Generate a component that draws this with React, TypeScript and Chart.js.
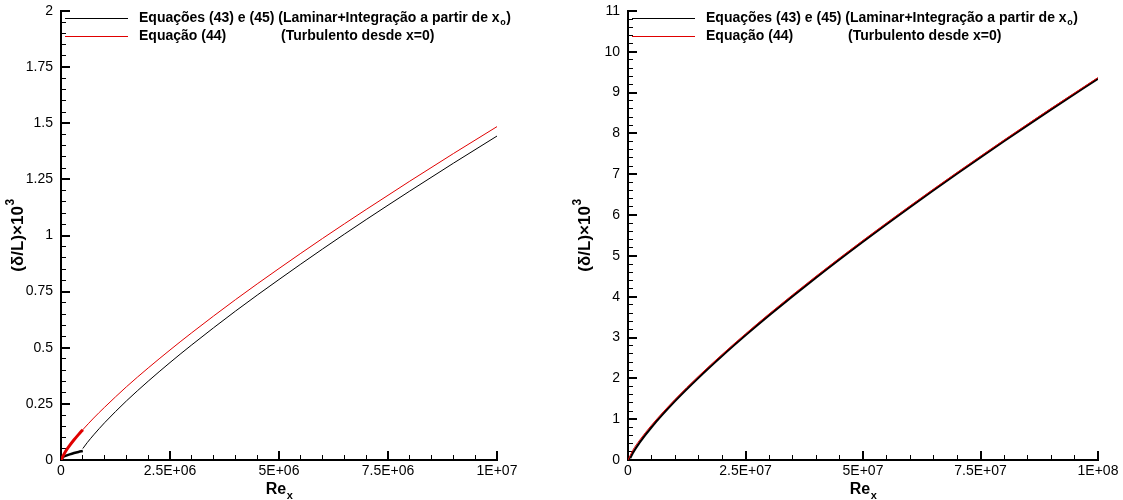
import React, { useEffect, useRef } from "react";
import { Chart, registerables } from "chart.js";

Chart.register(...registerables);

const FONT = '"Liberation Sans", Arial, Helvetica, sans-serif';

// ---------- Left panel data (Re up to 1E+07) ----------
const leftRedRe = [0, 1e5, 2e5, 3e5, 4e5, 5e5, 7.5e5, 1e6, 1.5e6, 2e6, 2.5e6, 3e6, 4e6, 5e6, 6e6, 7e6, 8e6, 9e6, 1e7];
const leftRed = [0, 0.037, 0.065, 0.09, 0.113, 0.135, 0.187, 0.235, 0.326, 0.41, 0.49, 0.567, 0.714, 0.853, 0.987, 1.116, 1.242, 1.365, 1.485];
const leftLamRe = [0, 5e4, 1e5, 2e5, 3e5, 4e5, 5e5];
const leftLam = [0, 0.013, 0.018, 0.025, 0.031, 0.036, 0.04];
const leftBlackRe = [5e5, 6e5, 7.5e5, 1e6, 1.5e6, 2e6, 2.5e6, 3e6, 4e6, 5e6, 6e6, 7e6, 8e6, 9e6, 1e7];
const leftBlack = [0.051, 0.077, 0.112, 0.166, 0.263, 0.351, 0.434, 0.513, 0.663, 0.804, 0.94, 1.071, 1.198, 1.322, 1.443];
const leftXTicks = [0, 2.5e6, 5e6, 7.5e6, 1e7];
const leftXLabels = ["0", "2.5E+06", "5E+06", "7.5E+06", "1E+07"];
const leftYTicks = [0, 0.25, 0.5, 0.75, 1, 1.25, 1.5, 1.75, 2];
const leftYLabels = ["0", "0.25", "0.5", "0.75", "1", "1.25", "1.5", "1.75", "2"];

// ---------- Right panel data (Re up to 1E+08) ----------
const rightRedRe = [0, 1e6, 2.5e6, 5e6, 1e7, 1.5e7, 2e7, 2.5e7, 3e7, 4e7, 5e7, 6e7, 7e7, 8e7, 9e7, 1e8];
const rightRed = [0, 0.235, 0.49, 0.853, 1.485, 2.054, 2.585, 3.091, 3.577, 4.502, 5.381, 6.226, 7.044, 7.838, 8.613, 9.37];
const rightLamRe = [0, 2.5e5, 5e5];
const rightLam = [0, 0.028, 0.04];
const rightBlackRe = [5e5, 1e6, 2.5e6, 5e6, 1e7, 1.5e7, 2e7, 2.5e7, 3e7, 4e7, 5e7, 6e7, 7e7, 8e7, 9e7, 1e8];
const rightBlack = [0.051, 0.166, 0.434, 0.804, 1.443, 2.015, 2.549, 3.056, 3.543, 4.47, 5.351, 6.197, 7.016, 7.811, 8.586, 9.343];
const rightXTicks = [0, 2.5e7, 5e7, 7.5e7, 1e8];
const rightXLabels = ["0", "2.5E+07", "5E+07", "7.5E+07", "1E+08"];
const rightYTicks = [0, 1, 2, 3, 4, 5, 6, 7, 8, 9, 10, 11];
const rightYLabels = ["0", "1", "2", "3", "4", "5", "6", "7", "8", "9", "10", "11"];

const legendLine1 = "Equações (43) e (45) (Laminar+Integração a partir de x";
const legendLine1Sub = "o";
const legendLine1End = ")";
const legendLine2a = "Equação (44)";
const legendLine2b = "(Turbulento desde x=0)";

const pts = (xs: number[], ys: number[]) => xs.map((x, i) => ({ x, y: ys[i] }));

// minor tick values: 4 between each pair of major ticks
const minorsOf = (major: number[]) => {
  const out: number[] = [];
  for (let i = 0; i < major.length - 1; i++) {
    const step = (major[i + 1] - major[i]) / 5;
    for (let k = 1; k < 5; k++) out.push(major[i] + k * step);
  }
  return out;
};

const decorPlugin = {
  id: "axisText",
  afterDraw(chart: any) {
    const ctx = chart.ctx;
    const area = chart.chartArea;
    const left = Math.round(area.left);
    const right = Math.round(area.right);
    const top = Math.round(area.top);
    const bottom = Math.round(area.bottom);
    ctx.save();
    ctx.fillStyle = "#000";

    // x title Re_x
    const cx = (left + right) / 2;
    ctx.textBaseline = "alphabetic";
    ctx.textAlign = "left";
    ctx.font = `bold 16px ${FONT}`;
    const wRe = ctx.measureText("Re").width;
    ctx.font = `bold 11px ${FONT}`;
    const wx = ctx.measureText("x").width;
    const x0 = cx - (wRe + wx) / 2;
    ctx.font = `bold 16px ${FONT}`;
    ctx.fillText("Re", x0, 494);
    ctx.font = `bold 11px ${FONT}`;
    ctx.fillText("x", x0 + wRe + 0.5, 499);

    // y title (δ/L)×10^3
    const cy = (top + bottom) / 2;
    ctx.save();
    ctx.translate(left - 43, cy);
    ctx.rotate(-Math.PI / 2);
    ctx.font = `bold 17px ${FONT}`;
    const main = "(δ/L)×10";
    const wm = ctx.measureText(main).width;
    ctx.font = `bold 12px ${FONT}`;
    const w3 = ctx.measureText("3").width;
    const sx = -(wm + w3) / 2;
    ctx.font = `bold 17px ${FONT}`;
    ctx.textBaseline = "middle";
    ctx.fillText(main, sx, 0);
    ctx.font = `bold 12px ${FONT}`;
    ctx.fillText("3", sx + wm + 0.5, -7);
    ctx.restore();

    // legend
    const l1y = 18;
    const l2y = 36;
    ctx.fillStyle = "#000";
    ctx.fillRect(left + 4, l1y, 63, 1);
    ctx.fillStyle = "#e00000";
    ctx.fillRect(left + 4, l2y, 63, 1);

    ctx.fillStyle = "#000";
    ctx.textBaseline = "middle";
    ctx.textAlign = "left";
    const LF = `bold 14px ${FONT}`;
    ctx.font = LF;
    const tx = left + 78;
    ctx.fillText(legendLine1, tx, l1y);
    const w1 = ctx.measureText(legendLine1).width;
    ctx.font = `bold 9px ${FONT}`;
    ctx.fillText(legendLine1Sub, tx + w1 + 0.5, l1y + 5);
    const ws = ctx.measureText(legendLine1Sub).width;
    ctx.font = LF;
    ctx.fillText(legendLine1End, tx + w1 + ws + 1, l1y);
    ctx.fillText(legendLine2a, tx, l2y);
    ctx.fillText(legendLine2b, left + 220, l2y);

    ctx.restore();
  },
};

function makeConfig(p: any) {
  const tickFont = { family: FONT, size: 14 };
  const xMax = p.xTicks[p.xTicks.length - 1];
  const yMax = p.yTicks[p.yTicks.length - 1];
  const xMinor = minorsOf(p.xTicks);
  const yMinor = minorsOf(p.yTicks);
  return {
    type: "scatter",
    data: { datasets: p.datasets },
    options: {
      animation: false,
      responsive: false,
      events: [],
      layout: { padding: { left: 0, right: p.padRight, top: 11, bottom: 0 } },
      plugins: {
        legend: { display: false },
        tooltip: { enabled: false },
      },
      scales: {
        x: {
          type: "linear",
          axis: "x",
          position: "bottom",
          weight: 1,
          min: 0,
          max: xMax,
          grid: {
            display: true,
            drawOnChartArea: false,
            drawTicks: true,
            tickLength: -9,
            tickWidth: 2,
            tickColor: "#000",
            lineWidth: 2,
            color: "#000",
          },
          border: { display: true, width: 2, color: "#000" },
          afterBuildTicks: (s: any) => {
            s.ticks = p.xTicks.map((v: number) => ({ value: v }));
          },
          afterFit: (s: any) => {
            s.height = 40;
            s.paddingLeft = 0;
            s.paddingRight = 0;
          },
          ticks: {
            font: tickFont,
            color: "#000",
            padding: 12,
            maxRotation: 0,
            autoSkip: false,
            callback: (_v: any, i: number) => p.xLabels[i],
          },
        },
        x2: {
          type: "linear",
          axis: "x",
          position: "bottom",
          weight: -1,
          min: 0,
          max: xMax,
          grid: {
            display: true,
            drawOnChartArea: false,
            drawTicks: true,
            tickLength: -5,
            tickWidth: 1,
            tickColor: "#000",
            lineWidth: 1,
            color: "#000",
          },
          border: { display: false },
          afterBuildTicks: (s: any) => {
            s.ticks = xMinor.map((v: number) => ({ value: v }));
          },
          afterFit: (s: any) => {
            s.height = 0;
            s.paddingLeft = 0;
            s.paddingRight = 0;
          },
          ticks: { autoSkip: false, maxRotation: 0, padding: 0, callback: () => "" },
        },
        y: {
          type: "linear",
          axis: "y",
          position: "left",
          weight: 1,
          min: 0,
          max: yMax,
          grid: {
            display: true,
            drawOnChartArea: false,
            drawTicks: true,
            tickLength: -9,
            tickWidth: 2,
            tickColor: "#000",
            lineWidth: 2,
            color: "#000",
          },
          border: { display: true, width: 2, color: "#000" },
          afterBuildTicks: (s: any) => {
            s.ticks = p.yTicks.map((v: number) => ({ value: v }));
          },
          afterFit: (s: any) => {
            s.width = p.yWidth;
            s.paddingTop = 0;
            s.paddingBottom = 0;
          },
          ticks: {
            font: tickFont,
            color: "#000",
            padding: 17,
            autoSkip: false,
            callback: (_v: any, i: number) => p.yLabels[i],
          },
        },
        y2: {
          type: "linear",
          axis: "y",
          position: "left",
          weight: -1,
          min: 0,
          max: yMax,
          grid: {
            display: true,
            drawOnChartArea: false,
            drawTicks: true,
            tickLength: -5,
            tickWidth: 1,
            tickColor: "#000",
            lineWidth: 1,
            color: "#000",
          },
          border: { display: false },
          afterBuildTicks: (s: any) => {
            s.ticks = yMinor.map((v: number) => ({ value: v }));
          },
          afterFit: (s: any) => {
            s.width = 0;
            s.paddingTop = 0;
            s.paddingBottom = 0;
          },
          ticks: { autoSkip: false, padding: 0, callback: () => "" },
        },
      },
    },
    plugins: [decorPlugin],
  };
}

const lineDs = (data: any[], color: string, width: number) => ({
  data,
  xAxisID: "x",
  yAxisID: "y",
  showLine: true,
  borderColor: color,
  backgroundColor: color,
  borderWidth: width,
  pointRadius: 0,
  fill: false,
  cubicInterpolationMode: "monotone",
});

function leftParams() {
  return {
    padRight: 63,
    yWidth: 61,
    xTicks: leftXTicks,
    xLabels: leftXLabels,
    yTicks: leftYTicks,
    yLabels: leftYLabels,
    datasets: [
      lineDs(pts(leftRedRe.slice(0, 6), leftRed.slice(0, 6)), "#e00000", 3),
      lineDs(pts(leftRedRe, leftRed), "#e00000", 1),
      lineDs(pts(leftLamRe, leftLam), "#000000", 2.5),
      lineDs(pts(leftBlackRe, leftBlack), "#000000", 1),
    ],
  };
}

function rightParams() {
  return {
    padRight: 563 - 538,
    yWidth: 68,
    xTicks: rightXTicks,
    xLabels: rightXLabels,
    yTicks: rightYTicks,
    yLabels: rightYLabels,
    datasets: [
      lineDs(pts(rightRedRe, rightRed), "#e00000", 1),
      lineDs(pts(rightLamRe, rightLam), "#000000", 2.5),
      lineDs(pts(rightBlackRe, rightBlack), "#000000", 2.2),
    ],
  };
}

function ChartCanvas({ make, width, height, left }: any) {
  const ref = useRef<HTMLCanvasElement>(null);
  useEffect(() => {
    if (!ref.current) return;
    const c = new Chart(ref.current, makeConfig(make()) as any);
    return () => c.destroy();
  }, []);
  return (
    <canvas
      ref={ref}
      width={width}
      height={height}
      style={{ position: "absolute", left, top: 0, width, height }}
    />
  );
}

export default function App() {
  return (
    <div style={{ position: "absolute", left: 0, top: 0, width: 1123, height: 500, background: "#fff" }}>
      <ChartCanvas make={leftParams} width={560} height={500} left={0} />
      <ChartCanvas make={rightParams} width={563} height={500} left={560} />
    </div>
  );
}
